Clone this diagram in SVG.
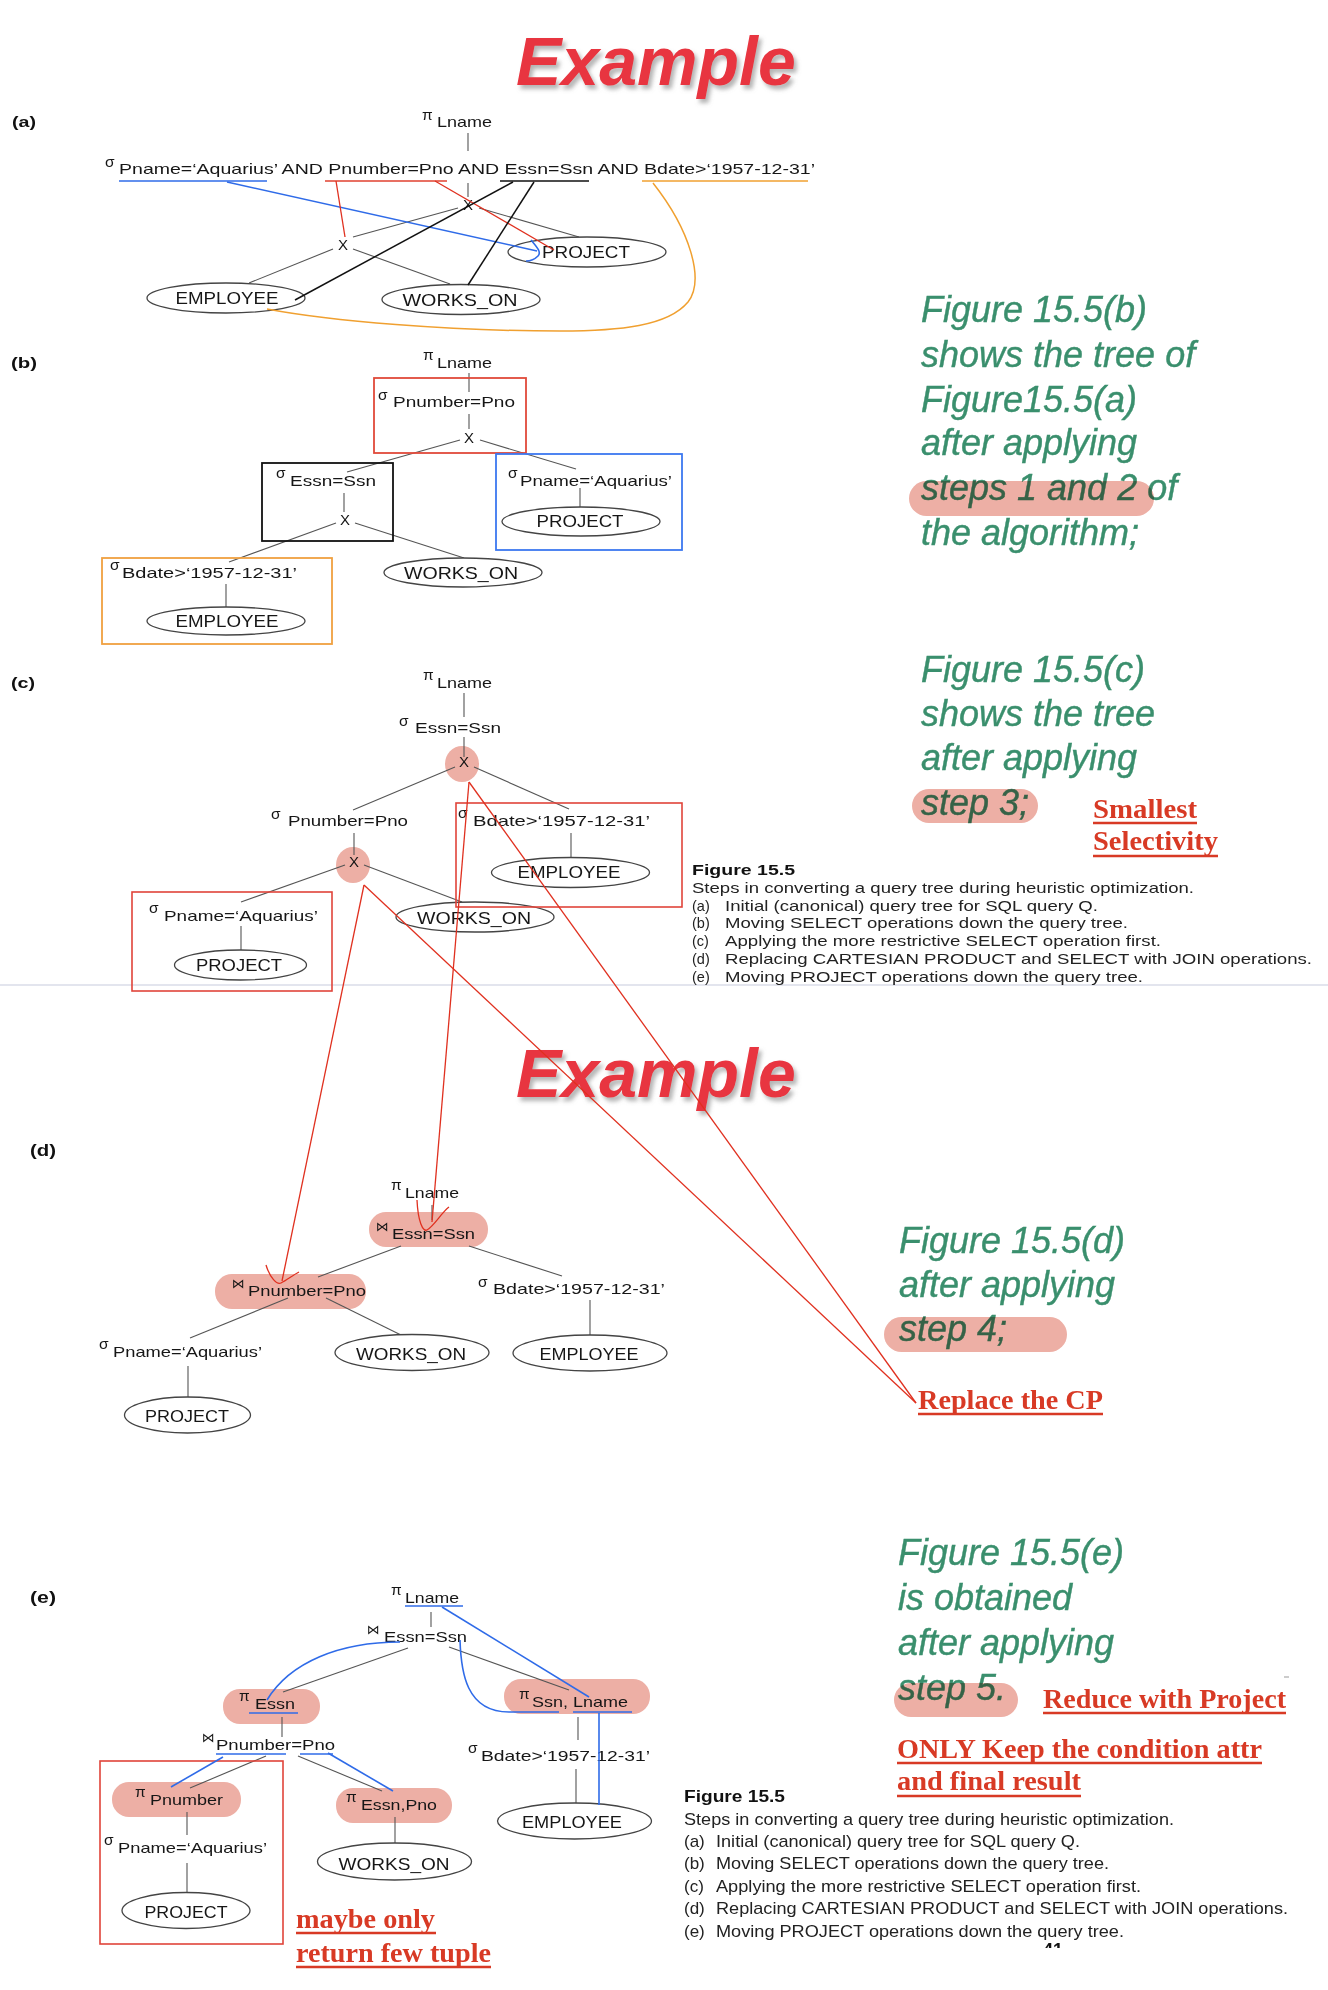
<svg xmlns="http://www.w3.org/2000/svg" width="1328" height="1990" viewBox="0 0 1328 1990">
<defs>
<style>
.t{font-family:"Liberation Sans",Arial,sans-serif;fill:#161616}
.lbl{font-size:14.5px}
.rel{font-size:16.5px}
.sym{font-size:15.5px}
.jn{font-family:"DejaVu Sans",sans-serif;font-size:13px;fill:#161616}
.x{font-size:15px;text-anchor:middle}
.sec{font-family:"Liberation Sans",Arial,sans-serif;font-weight:bold;fill:#111}
.edge{stroke:#555;stroke-width:1.1;fill:none}
.ell{fill:#fff;stroke:#444;stroke-width:1.3}
.pink{fill:#EDAFA5}
.pill{fill:#EDAFA5;mix-blend-mode:multiply}
.green{font-family:"Liberation Sans",Arial,sans-serif;font-style:italic;font-size:36px;fill:#3A8F6D;stroke:#3A8F6D;stroke-width:0.4}
.note{font-family:"Liberation Serif","Times New Roman",serif;font-weight:bold;font-size:27px;fill:#D83A25}
.ul{stroke:#D83A25;stroke-width:2.4}
.cap1{font-family:"Liberation Sans",Arial,sans-serif;font-size:14.5px;fill:#222}
.cap2{font-family:"Liberation Sans",Arial,sans-serif;font-size:17px;fill:#222}
.title{font-family:"Liberation Sans",Arial,sans-serif;font-weight:bold;font-style:italic;font-size:68px;fill:#E8343F}
.rl{stroke:#E0301F;stroke-width:1.3;fill:none}
.bl{stroke:#2F6BE8;stroke-width:1.6;fill:none}
</style>
<filter id="sh" x="-10%" y="-20%" width="130%" height="150%">
<feDropShadow dx="3" dy="4" stdDeviation="2" flood-color="#777" flood-opacity="0.55"/>
</filter>
<clipPath id="pg"><rect x="1030" y="1938" width="60" height="10"/></clipPath>
</defs>
<rect width="1328" height="1990" fill="#fff"/>

<!-- page separator -->
<line x1="0" y1="985" x2="1328" y2="985" stroke="#C8CBDD" stroke-width="1.2"/>

<!-- titles -->
<g id="title1"><text class="title" x="516" y="85" filter="url(#sh)">Example</text></g>
<g id="title2"><text class="title" x="516" y="1097" filter="url(#sh)">Example</text></g>

<!-- section labels -->
<text class="sec" x="12" y="127" font-size="14" textLength="24" lengthAdjust="spacingAndGlyphs">(a)</text>
<text class="sec" x="11" y="368" font-size="14" textLength="26" lengthAdjust="spacingAndGlyphs">(b)</text>
<text class="sec" x="11" y="688" font-size="14" textLength="24" lengthAdjust="spacingAndGlyphs">(c)</text>
<text class="sec" x="30" y="1156" font-size="16" textLength="26" lengthAdjust="spacingAndGlyphs">(d)</text>
<text class="sec" x="30" y="1603" font-size="16" textLength="26" lengthAdjust="spacingAndGlyphs">(e)</text>

<!-- highlight shapes (under tree) -->
<g id="highlights">
<ellipse class="pink" cx="462" cy="764" rx="17" ry="18"/>
<ellipse class="pink" cx="353" cy="865" rx="17" ry="18"/>
<rect class="pink" x="369" y="1212" width="119" height="35" rx="17"/>
<rect class="pink" x="215" y="1274" width="151" height="35" rx="17"/>
<rect class="pink" x="223" y="1689" width="97" height="35" rx="17"/>
<rect class="pink" x="112" y="1782" width="129" height="35" rx="17"/>
<rect class="pink" x="336" y="1788" width="116" height="35" rx="17"/>
<rect class="pink" x="504" y="1679" width="146" height="35" rx="17"/>
</g>

<!-- tree connectors -->
<g id="connectors">
<line class="edge" x1="468" y1="133" x2="468" y2="151"/>
<line class="edge" x1="468" y1="183" x2="468" y2="197"/>
<line class="edge" x1="458" y1="208" x2="353" y2="237"/>
<line class="edge" x1="479" y1="208" x2="579" y2="237"/>
<line class="edge" x1="333" y1="249" x2="249" y2="283"/>
<line class="edge" x1="353" y1="249" x2="450" y2="284"/>

<line class="edge" x1="469" y1="373" x2="469" y2="392"/>
<line class="edge" x1="469" y1="414" x2="469" y2="429"/>
<line class="edge" x1="460" y1="440" x2="347" y2="472"/>
<line class="edge" x1="480" y1="440" x2="576" y2="469"/>
<line class="edge" x1="344" y1="493" x2="344" y2="512"/>
<line class="edge" x1="336" y1="523" x2="229" y2="562"/>
<line class="edge" x1="355" y1="523" x2="464" y2="558"/>
<line class="edge" x1="580" y1="488" x2="580" y2="507"/>
<line class="edge" x1="226" y1="584" x2="226" y2="607"/>

<line class="edge" x1="464" y1="693" x2="464" y2="717"/>
<line class="edge" x1="464" y1="737" x2="464" y2="757"/>
<line class="edge" x1="455" y1="767" x2="353" y2="810"/>
<line class="edge" x1="474" y1="767" x2="569" y2="809"/>
<line class="edge" x1="354" y1="833" x2="354" y2="855"/>
<line class="edge" x1="345" y1="865" x2="241" y2="902"/>
<line class="edge" x1="364" y1="865" x2="462" y2="902"/>
<line class="edge" x1="241" y1="926" x2="241" y2="950"/>
<line class="edge" x1="571" y1="833" x2="571" y2="857"/>

<line class="edge" x1="432" y1="1205" x2="432" y2="1220"/>
<line class="edge" x1="401" y1="1246" x2="318" y2="1277"/>
<line class="edge" x1="469" y1="1246" x2="562" y2="1276"/>
<line class="edge" x1="288" y1="1298" x2="190" y2="1338"/>
<line class="edge" x1="326" y1="1298" x2="401" y2="1335"/>
<line class="edge" x1="590" y1="1300" x2="590" y2="1335"/>
<line class="edge" x1="188" y1="1366" x2="188" y2="1397"/>

<line class="edge" x1="431" y1="1612" x2="431" y2="1627"/>
<line class="edge" x1="408" y1="1648" x2="283" y2="1692"/>
<line class="edge" x1="449" y1="1647" x2="569" y2="1690"/>
<line class="edge" x1="282" y1="1717" x2="282" y2="1737"/>
<line class="edge" x1="266" y1="1756" x2="190" y2="1788"/>
<line class="edge" x1="298" y1="1756" x2="382" y2="1791"/>
<line class="edge" x1="187" y1="1812" x2="187" y2="1835"/>
<line class="edge" x1="187" y1="1863" x2="187" y2="1892"/>
<line class="edge" x1="395" y1="1817" x2="395" y2="1843"/>
<line class="edge" x1="578" y1="1717" x2="578" y2="1740"/>
<line class="edge" x1="576" y1="1769" x2="576" y2="1803"/>
</g>

<!-- (a) tree nodes -->
<g id="a-pi"><text class="t sym" x="422" y="120">π</text><text class="t lbl" x="437" y="127" textLength="55" lengthAdjust="spacingAndGlyphs">Lname</text></g>
<g id="a-sigma"><text class="t sym" x="105" y="167">σ</text><text class="t lbl" x="119" y="174" textLength="696" lengthAdjust="spacingAndGlyphs">Pname=‘Aquarius’ AND Pnumber=Pno AND Essn=Ssn AND Bdate&gt;‘1957-12-31’</text></g>
<g id="a-x1"><text class="t x" x="468" y="210">X</text></g>
<g id="a-x2"><text class="t x" x="343" y="250">X</text></g>
<g id="a-project"><ellipse class="ell" cx="587" cy="252" rx="79" ry="15"/><text class="t rel" x="586" y="258" text-anchor="middle" textLength="88" lengthAdjust="spacingAndGlyphs">PROJECT</text></g>
<g id="a-employee"><ellipse class="ell" cx="226" cy="298" rx="79" ry="15"/><text class="t rel" x="227" y="304" text-anchor="middle" textLength="103" lengthAdjust="spacingAndGlyphs">EMPLOYEE</text></g>
<g id="a-works"><ellipse class="ell" cx="461" cy="299.5" rx="79" ry="15"/><text class="t rel" x="460" y="306" text-anchor="middle" textLength="115" lengthAdjust="spacingAndGlyphs">WORKS_ON</text></g>

<!-- (a) annotations -->
<g id="a-annot">
<line x1="119" y1="181" x2="267" y2="181" stroke="#2F6BE8" stroke-width="1.6"/>
<line x1="325" y1="181" x2="447" y2="181" stroke="#E0402F" stroke-width="1.6"/>
<line x1="500" y1="181" x2="589" y2="181" stroke="#111" stroke-width="1.6"/>
<line x1="642" y1="181" x2="808" y2="181" stroke="#F0A030" stroke-width="1.6"/>
<line x1="227" y1="182" x2="537" y2="251" stroke="#2F6BE8" stroke-width="1.6"/>
<path d="M531,240 C536,246 542,252 538,256 C535,259 530,261 526,261" stroke="#2F6BE8" stroke-width="1.6" fill="none"/>
<line x1="336" y1="181" x2="345" y2="237" stroke="#E0301F" stroke-width="1.3"/>
<line x1="435" y1="181" x2="554" y2="250" stroke="#E0301F" stroke-width="1.3"/>
<line x1="513" y1="182" x2="295" y2="300" stroke="#111" stroke-width="1.5"/>
<line x1="534" y1="182" x2="468" y2="285" stroke="#111" stroke-width="1.5"/>
<path d="M653,183 C690,230 705,280 688,302 C668,326 620,331 560,331 C450,331 330,321 267,309" stroke="#F0A030" stroke-width="1.5" fill="none"/>
</g>

<!-- (b) tree -->
<rect x="374" y="378" width="152" height="75" fill="none" stroke="#E04A3A" stroke-width="1.8"/>
<rect x="262" y="463" width="131" height="78" fill="none" stroke="#111" stroke-width="1.8"/>
<rect x="496" y="454" width="186" height="96" fill="none" stroke="#3C78F0" stroke-width="1.8"/>
<rect x="102" y="558" width="230" height="86" fill="none" stroke="#F0A040" stroke-width="1.8"/>
<g id="b-pi"><text class="t sym" x="423" y="360">π</text><text class="t lbl" x="437" y="368" textLength="55" lengthAdjust="spacingAndGlyphs">Lname</text></g>
<g id="b-sig1"><text class="t sym" x="378" y="400">σ</text><text class="t lbl" x="393" y="407" textLength="122" lengthAdjust="spacingAndGlyphs">Pnumber=Pno</text></g>
<g id="b-x1"><text class="t x" x="469" y="443">X</text></g>
<g id="b-sig2"><text class="t sym" x="276" y="478">σ</text><text class="t lbl" x="290" y="486" textLength="86" lengthAdjust="spacingAndGlyphs">Essn=Ssn</text></g>
<g id="b-x2"><text class="t x" x="345" y="525">X</text></g>
<g id="b-sig3"><text class="t sym" x="508" y="478">σ</text><text class="t lbl" x="520" y="486" textLength="152" lengthAdjust="spacingAndGlyphs">Pname=‘Aquarius’</text></g>
<g id="b-project"><ellipse class="ell" cx="581" cy="521.5" rx="79" ry="14.5"/><text class="t rel" x="580" y="527" text-anchor="middle" textLength="87" lengthAdjust="spacingAndGlyphs">PROJECT</text></g>
<g id="b-sig4"><text class="t sym" x="110" y="570">σ</text><text class="t lbl" x="122" y="578" textLength="175" lengthAdjust="spacingAndGlyphs">Bdate&gt;‘1957-12-31’</text></g>
<g id="b-employee"><ellipse class="ell" cx="226" cy="621" rx="79" ry="14"/><text class="t rel" x="227" y="627" text-anchor="middle" textLength="103" lengthAdjust="spacingAndGlyphs">EMPLOYEE</text></g>
<g id="b-works"><ellipse class="ell" cx="463" cy="572.5" rx="79" ry="14.5"/><text class="t rel" x="461" y="579" text-anchor="middle" textLength="114" lengthAdjust="spacingAndGlyphs">WORKS_ON</text></g>

<!-- (c) tree -->
<rect x="132" y="892" width="200" height="99" fill="none" stroke="#E0443A" stroke-width="1.6"/>
<g id="c-pi"><text class="t sym" x="423" y="680">π</text><text class="t lbl" x="437" y="688" textLength="55" lengthAdjust="spacingAndGlyphs">Lname</text></g>
<g id="c-sig1"><text class="t sym" x="399" y="726">σ</text><text class="t lbl" x="415" y="733" textLength="86" lengthAdjust="spacingAndGlyphs">Essn=Ssn</text></g>
<g id="c-x1"><text class="t x" x="464" y="767">X</text></g>
<g id="c-sig2"><text class="t sym" x="271" y="819">σ</text><text class="t lbl" x="288" y="826" textLength="120" lengthAdjust="spacingAndGlyphs">Pnumber=Pno</text></g>
<g id="c-x2"><text class="t x" x="354" y="867">X</text></g>
<g id="c-sig3"><text class="t sym" x="149" y="913">σ</text><text class="t lbl" x="164" y="921" textLength="154" lengthAdjust="spacingAndGlyphs">Pname=‘Aquarius’</text></g>
<g id="c-project"><ellipse class="ell" cx="240.5" cy="965" rx="66" ry="15"/><text class="t rel" x="239" y="971" text-anchor="middle" textLength="86" lengthAdjust="spacingAndGlyphs">PROJECT</text></g>
<g id="c-sig4"><text class="t sym" x="458" y="818">σ</text><text class="t lbl" x="473" y="826" textLength="177" lengthAdjust="spacingAndGlyphs">Bdate&gt;‘1957-12-31’</text></g>
<g id="c-employee"><ellipse class="ell" cx="570.5" cy="872.5" rx="79" ry="15"/><text class="t rel" x="569" y="878" text-anchor="middle" textLength="103" lengthAdjust="spacingAndGlyphs">EMPLOYEE</text></g>
<g id="c-works"><ellipse class="ell" cx="475" cy="917" rx="79" ry="15"/><text class="t rel" x="474" y="924" text-anchor="middle" textLength="114" lengthAdjust="spacingAndGlyphs">WORKS_ON</text></g>
<rect x="456" y="803" width="226" height="104" fill="none" stroke="#E0443A" stroke-width="1.6"/>

<!-- (d) tree -->
<g id="d-pi"><text class="t sym" x="391" y="1190">π</text><text class="t lbl" x="405" y="1198" textLength="54" lengthAdjust="spacingAndGlyphs">Lname</text></g>
<g id="d-join1"><text class="jn" x="376" y="1231">⋈</text><text class="t lbl" x="392" y="1239" textLength="83" lengthAdjust="spacingAndGlyphs">Essn=Ssn</text></g>
<g id="d-join2"><text class="jn" x="232" y="1288">⋈</text><text class="t lbl" x="248" y="1296" textLength="118" lengthAdjust="spacingAndGlyphs">Pnumber=Pno</text></g>
<g id="d-sig1"><text class="t sym" x="478" y="1287">σ</text><text class="t lbl" x="493" y="1294" textLength="172" lengthAdjust="spacingAndGlyphs">Bdate&gt;‘1957-12-31’</text></g>
<g id="d-sig2"><text class="t sym" x="99" y="1349">σ</text><text class="t lbl" x="113" y="1357" textLength="149" lengthAdjust="spacingAndGlyphs">Pname=‘Aquarius’</text></g>
<g id="d-project"><ellipse class="ell" cx="187.5" cy="1415" rx="63" ry="18"/><text class="t rel" x="187" y="1422" text-anchor="middle" textLength="84" lengthAdjust="spacingAndGlyphs">PROJECT</text></g>
<g id="d-works"><ellipse class="ell" cx="412" cy="1352.5" rx="77" ry="18"/><text class="t rel" x="411" y="1360" text-anchor="middle" textLength="110" lengthAdjust="spacingAndGlyphs">WORKS_ON</text></g>
<g id="d-employee"><ellipse class="ell" cx="590" cy="1353" rx="77" ry="18"/><text class="t rel" x="589" y="1360" text-anchor="middle" textLength="99" lengthAdjust="spacingAndGlyphs">EMPLOYEE</text></g>

<!-- (e) tree -->
<rect x="100" y="1761" width="183" height="183" fill="none" stroke="#E0443A" stroke-width="1.6"/>
<g id="e-pi"><text class="t sym" x="391" y="1595">π</text><text class="t lbl" x="405" y="1603" textLength="54" lengthAdjust="spacingAndGlyphs">Lname</text></g>
<g id="e-join1"><text class="jn" x="367" y="1634">⋈</text><text class="t lbl" x="384" y="1642" textLength="83" lengthAdjust="spacingAndGlyphs">Essn=Ssn</text></g>
<g id="e-pi-essn"><text class="t sym" x="239" y="1701">π</text><text class="t lbl" x="255" y="1709" textLength="40" lengthAdjust="spacingAndGlyphs">Essn</text></g>
<g id="e-join2"><text class="jn" x="202" y="1742">⋈</text><text class="t lbl" x="216" y="1750" textLength="119" lengthAdjust="spacingAndGlyphs">Pnumber=Pno</text></g>
<g id="e-pi-pnumber"><text class="t sym" x="135" y="1797">π</text><text class="t lbl" x="150" y="1805" textLength="73" lengthAdjust="spacingAndGlyphs">Pnumber</text></g>
<g id="e-sig1"><text class="t sym" x="104" y="1845">σ</text><text class="t lbl" x="118" y="1853" textLength="149" lengthAdjust="spacingAndGlyphs">Pname=‘Aquarius’</text></g>
<g id="e-project"><ellipse class="ell" cx="186" cy="1910.5" rx="64" ry="18"/><text class="t rel" x="186" y="1918" text-anchor="middle" textLength="83" lengthAdjust="spacingAndGlyphs">PROJECT</text></g>
<g id="e-pi-essnpno"><text class="t sym" x="346" y="1802">π</text><text class="t lbl" x="361" y="1810" textLength="76" lengthAdjust="spacingAndGlyphs">Essn,Pno</text></g>
<g id="e-works"><ellipse class="ell" cx="394.5" cy="1861.5" rx="77" ry="18.5"/><text class="t rel" x="394" y="1870" text-anchor="middle" textLength="111" lengthAdjust="spacingAndGlyphs">WORKS_ON</text></g>
<g id="e-pi-ssn"><text class="t sym" x="519" y="1699">π</text><text class="t lbl" x="532" y="1707" textLength="96" lengthAdjust="spacingAndGlyphs">Ssn, Lname</text></g>
<g id="e-sig2"><text class="t sym" x="468" y="1753">σ</text><text class="t lbl" x="481" y="1761" textLength="169" lengthAdjust="spacingAndGlyphs">Bdate&gt;‘1957-12-31’</text></g>
<g id="e-employee"><ellipse class="ell" cx="574.5" cy="1821" rx="77" ry="18"/><text class="t rel" x="572" y="1828" text-anchor="middle" textLength="100" lengthAdjust="spacingAndGlyphs">EMPLOYEE</text></g>

<!-- (e) blue annotations -->
<g id="e-annot">
<line class="bl" x1="405" y1="1606" x2="463" y2="1606"/>
<line class="bl" x1="442" y1="1607" x2="589" y2="1697"/>
<path class="bl" d="M400,1642 C340,1642 290,1662 267,1700"/>
<path class="bl" d="M460,1640 C461,1672 466,1712 509,1712 L559,1712"/>
<line class="bl" x1="249" y1="1713" x2="298" y2="1713"/>
<line class="bl" x1="216" y1="1754" x2="286" y2="1754"/>
<line class="bl" x1="300" y1="1754" x2="333" y2="1754"/>
<line class="bl" x1="223" y1="1757" x2="171" y2="1787"/>
<line class="bl" x1="328" y1="1753" x2="393" y2="1791"/>
<line class="bl" x1="573" y1="1712" x2="632" y2="1712"/>
<line class="bl" x1="599" y1="1713" x2="599" y2="1805"/>
</g>

<!-- red annotation lines c -> d -->
<g id="cd-annot">
<line class="rl" x1="469" y1="782" x2="432" y2="1222"/>
<path class="rl" d="M417,1200 C418,1222 423,1232 427,1230 C434,1226 442,1212 449,1207"/>
<line class="rl" x1="364" y1="885" x2="282" y2="1281"/>
<path class="rl" d="M266,1265 C270,1278 277,1285 281,1283 C287,1280 293,1275 299,1272"/>
<line class="rl" x1="469" y1="782" x2="916" y2="1403"/>
<line class="rl" x1="364" y1="885" x2="916" y2="1403"/>
</g>

<!-- green commentary -->
<g id="note-b">
<text class="green" x="921" y="322">Figure 15.5(b)</text>
<text class="green" x="921" y="367">shows the tree of</text>
<text class="green" x="921" y="412">Figure15.5(a)</text>
<text class="green" x="921" y="455">after applying</text>
<text class="green" x="921" y="500">steps 1 and 2 of</text>
<text class="green" x="921" y="545">the algorithm;</text>
<rect class="pill" x="909" y="481" width="245" height="35" rx="17.5"/>
</g>
<g id="note-c">
<text class="green" x="921" y="682">Figure 15.5(c)</text>
<text class="green" x="921" y="726">shows the tree</text>
<text class="green" x="921" y="770">after applying</text>
<text class="green" x="921" y="815">step 3;</text>
<rect class="pill" x="912" y="789" width="126" height="34" rx="17"/>
</g>
<g id="note-d">
<text class="green" x="899" y="1253">Figure 15.5(d)</text>
<text class="green" x="899" y="1297">after applying</text>
<text class="green" x="899" y="1341">step 4;</text>
<rect class="pill" x="884" y="1317" width="183" height="35" rx="17.5"/>
</g>
<g id="note-e">
<text class="green" x="898" y="1565">Figure 15.5(e)</text>
<text class="green" x="898" y="1610">is obtained</text>
<text class="green" x="898" y="1655">after applying</text>
<text class="green" x="898" y="1700">step 5.</text>
<rect class="pill" x="894" y="1683" width="124" height="34" rx="17"/>
</g>

<!-- red notes -->
<g id="red-notes">
<text class="note" x="1093" y="818" textLength="104" lengthAdjust="spacingAndGlyphs">Smallest</text>
<line class="ul" x1="1093" y1="823" x2="1197" y2="823"/>
<text class="note" x="1093" y="850" textLength="125" lengthAdjust="spacingAndGlyphs">Selectivity</text>
<line class="ul" x1="1093" y1="856" x2="1218" y2="856"/>
<text class="note" x="918" y="1409" textLength="185" lengthAdjust="spacingAndGlyphs">Replace the CP</text>
<line class="ul" x1="918" y1="1414" x2="1103" y2="1414"/>
<text class="note" x="1043" y="1708" textLength="243" lengthAdjust="spacingAndGlyphs">Reduce with Project</text>
<line class="ul" x1="1043" y1="1713" x2="1286" y2="1713"/>
<text class="note" x="897" y="1758" textLength="365" lengthAdjust="spacingAndGlyphs">ONLY Keep the condition attr</text>
<line class="ul" x1="897" y1="1763" x2="1262" y2="1763"/>
<text class="note" x="897" y="1790" textLength="184" lengthAdjust="spacingAndGlyphs">and final result</text>
<line class="ul" x1="897" y1="1796" x2="1081" y2="1796"/>
<text class="note" x="296" y="1928" textLength="139" lengthAdjust="spacingAndGlyphs">maybe only</text>
<line class="ul" x1="296" y1="1933" x2="436" y2="1933"/>
<text class="note" x="296" y="1962" textLength="195" lengthAdjust="spacingAndGlyphs">return few tuple</text>
<line class="ul" x1="296" y1="1967" x2="491" y2="1967"/>
</g>

<!-- captions -->
<g id="caption1">
<text class="cap1" x="692" y="875" font-weight="bold" font-size="15" textLength="103" lengthAdjust="spacingAndGlyphs" style="fill:#111">Figure 15.5</text>
<text class="cap1" x="692" y="893" textLength="502" lengthAdjust="spacingAndGlyphs">Steps in converting a query tree during heuristic optimization.</text>
<text class="cap1" x="692" y="911">(a)</text><text class="cap1" x="725" y="911" textLength="373" lengthAdjust="spacingAndGlyphs">Initial (canonical) query tree for SQL query Q.</text>
<text class="cap1" x="692" y="928">(b)</text><text class="cap1" x="725" y="928" textLength="403" lengthAdjust="spacingAndGlyphs">Moving SELECT operations down the query tree.</text>
<text class="cap1" x="692" y="946">(c)</text><text class="cap1" x="725" y="946" textLength="436" lengthAdjust="spacingAndGlyphs">Applying the more restrictive SELECT operation first.</text>
<text class="cap1" x="692" y="964">(d)</text><text class="cap1" x="725" y="964" textLength="587" lengthAdjust="spacingAndGlyphs">Replacing CARTESIAN PRODUCT and SELECT with JOIN operations.</text>
<text class="cap1" x="692" y="982">(e)</text><text class="cap1" x="725" y="982" textLength="418" lengthAdjust="spacingAndGlyphs">Moving PROJECT operations down the query tree.</text>
</g>
<g id="caption2">
<text class="cap2" x="684" y="1802" font-weight="bold" textLength="101" lengthAdjust="spacingAndGlyphs" style="fill:#111">Figure 15.5</text>
<text class="cap2" x="684" y="1825" textLength="490" lengthAdjust="spacingAndGlyphs">Steps in converting a query tree during heuristic optimization.</text>
<text class="cap2" x="684" y="1847">(a)</text><text class="cap2" x="716" y="1847" textLength="364" lengthAdjust="spacingAndGlyphs">Initial (canonical) query tree for SQL query Q.</text>
<text class="cap2" x="684" y="1869">(b)</text><text class="cap2" x="716" y="1869" textLength="393" lengthAdjust="spacingAndGlyphs">Moving SELECT operations down the query tree.</text>
<text class="cap2" x="684" y="1892">(c)</text><text class="cap2" x="716" y="1892" textLength="425" lengthAdjust="spacingAndGlyphs">Applying the more restrictive SELECT operation first.</text>
<text class="cap2" x="684" y="1914">(d)</text><text class="cap2" x="716" y="1914" textLength="572" lengthAdjust="spacingAndGlyphs">Replacing CARTESIAN PRODUCT and SELECT with JOIN operations.</text>
<text class="cap2" x="684" y="1937">(e)</text><text class="cap2" x="716" y="1937" textLength="408" lengthAdjust="spacingAndGlyphs">Moving PROJECT operations down the query tree.</text>
<text x="1043" y="1956" clip-path="url(#pg)" font-family="Liberation Sans, sans-serif" font-weight="bold" font-size="18" fill="#111">41</text>
<line x1="1284" y1="1677" x2="1289" y2="1677" stroke="#999" stroke-width="1"/>
</g>
</svg>
